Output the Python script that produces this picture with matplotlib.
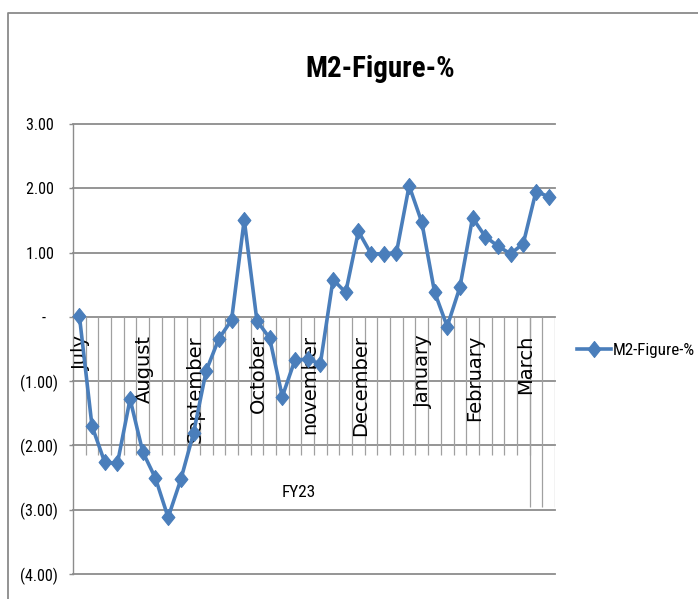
import matplotlib
matplotlib.use("Agg")
import matplotlib.pyplot as plt
from matplotlib import font_manager
from matplotlib.lines import Line2D
import numpy as np

m2_values = [0.02, -1.70, -2.26, -2.28, -1.28, -2.10, -2.51, -3.12, -2.53, -1.81,
             -0.84, -0.34, -0.05, 1.51, -0.06, -0.33, -1.24, -0.67, -0.66, -0.73,
             0.58, 0.38, 1.33, 0.98, 0.98, 1.00, 2.04, 1.47, 0.39, -0.15,
             0.46, 1.54, 1.25, 1.10, 0.98, 1.14, 1.95, 1.87]
month_names = ["July", "August", "September", "October", "november",
               "December", "January", "February", "March"]
month_pos = [0, 5, 9, 14, 18, 22, 27, 31, 35]
y_ticks = [-4, -3, -2, -1, 0, 1, 2, 3]
y_labels = ["(4.00)", "(3.00)", "(2.00)", "(1.00)", "-   ", "1.00 ", "2.00 ", "3.00 "]
series_name = "M2-Figure-%"
group_name = "FY23"

blue = "#4A7EBB"
grid_c = "#8C8C8C"


def pick_font(cands):
    for c in cands:
        try:
            font_manager.findfont(c, fallback_to_default=False)
            return c
        except ValueError:
            pass
    return "DejaVu Sans"


narrow = [pick_font(["Liberation Sans Narrow", "Noto Sans Condensed", "Roboto Condensed",
                     "Open Sans Condensed", "Liberation Sans"]), "DejaVu Sans"]

W, H = 698, 599
fig = plt.figure(figsize=(W / 100, H / 100), dpi=100)
ax = fig.add_axes([73 / W, 1 - 574 / H, 482 / W, 450 / H])
renderer = fig.canvas.get_renderer()


def fitted_size(s, width_px, max_size, **kw):
    # font size at which the text is as wide as in the reference
    t = fig.text(0, 0, s, fontsize=12, **kw)
    w = t.get_window_extent(renderer).width
    t.remove()
    return min(12 * width_px / w, max_size)


n = len(m2_values)
x = np.arange(n)
ax.set_xlim(-0.5, n - 0.5)
ax.set_ylim(-4, 3)

tick_size = fitted_size("(1.00)", 38, 13, family=narrow)
ax.set_yticks(y_ticks)
ax.set_yticklabels(y_labels, family=narrow, fontsize=tick_size)
ax.yaxis.grid(True, color=grid_c, lw=1.3)
for gl in ax.get_ygridlines():
    gl.set_clip_on(False)
ax.set_axisbelow(True)
ax.tick_params(axis="y", length=3, width=1, color=grid_c, pad=8)
ax.set_xticks([])
for s in ["top", "right", "bottom"]:
    ax.spines[s].set_visible(False)
ax.spines["left"].set_color(grid_c)
ax.spines["left"].set_linewidth(1)

# category divider lines (multi level axis)
ax.vlines(np.arange(0.5, n - 2), -2.15, 0, color="#A0A0A0", lw=0.9, zorder=1)
ax.vlines(np.arange(n - 2.5, n), -2.96, 0, color="#A0A0A0", lw=0.9, zorder=1)

for name, p in zip(month_names, month_pos):
    ax.text(p + 0.15, -0.28, name, rotation=90, ha="center", va="top",
            fontsize=14, family="DejaVu Sans", color="black")
ax.text(17.3, -2.73, group_name, ha="center", va="center",
        fontsize=fitted_size(group_name, 34, 13, family=narrow), family=narrow)

diamond = [(0, 1), (0.8, 0), (0, -1), (-0.8, 0), (0, 1)]
ax.plot(x, m2_values, color=blue, lw=2.6, marker=diamond, markersize=11.5,
        markerfacecolor=blue, markeredgecolor=blue, mew=0.8, clip_on=False,
        label=series_name, zorder=3)

leg_size = fitted_size(series_name, 82, 13, family=narrow)
leg = ax.legend(loc="center left", bbox_to_anchor=(577 / W, 1 - 350 / H),
                bbox_transform=fig.transFigure, frameon=False, borderpad=0,
                borderaxespad=0, handlelength=34 / (leg_size * 100 / 72),
                handletextpad=0.1, prop={"family": narrow, "size": leg_size})

fig.text(380 / W, 1 - 77 / H, series_name, ha="center", va="baseline",
         fontsize=fitted_size(series_name, 150, 28, family=narrow, fontweight="bold"),
         fontweight="bold", family=narrow)

# chart area border (cropped at right and bottom)
fig.add_artist(Line2D([8 / W, 8 / W, 1], [0, 1 - 13 / H, 1 - 13 / H],
                      transform=fig.transFigure, color="#8A8A8A", lw=1.3))

fig.savefig("out.png", dpi=100)
